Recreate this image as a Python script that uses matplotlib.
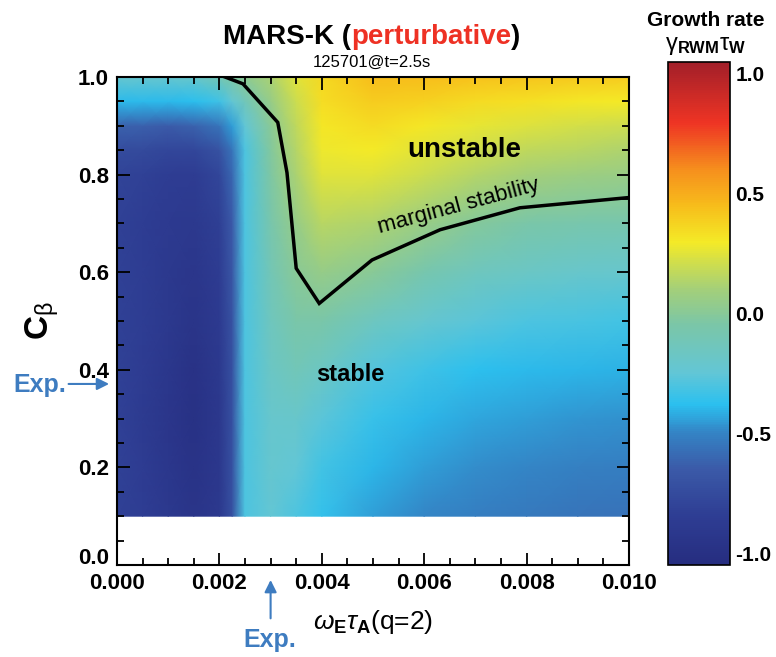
import numpy as np
import matplotlib
matplotlib.use("Agg")
import matplotlib.pyplot as plt
from matplotlib.colors import LinearSegmentedColormap
import matplotlib.transforms as mtransforms

# ---------------- data ----------------
omega = [0.0, 0.0005, 0.001, 0.0015, 0.002, 0.00225, 0.0025, 0.003, 0.0035, 0.004,
         0.005, 0.006, 0.007, 0.008, 0.009, 0.010]
cbeta = [0.1, 0.2, 0.3, 0.4, 0.5, 0.6, 0.7, 0.8, 0.85, 0.9, 0.95, 1.0]
growth = [
    [-0.82, -0.85, -0.90, -0.95, -0.90, -0.72, -0.30, -0.24, -0.30, -0.36, -0.45, -0.50, -0.52, -0.54, -0.55, -0.56],
    [-0.82, -0.86, -0.92, -0.97, -0.91, -0.72, -0.30, -0.22, -0.25, -0.32, -0.40, -0.45, -0.48, -0.50, -0.51, -0.52],
    [-0.82, -0.87, -0.93, -0.99, -0.91, -0.72, -0.30, -0.21, -0.20, -0.27, -0.35, -0.40, -0.43, -0.45, -0.46, -0.47],
    [-0.82, -0.86, -0.92, -0.98, -0.90, -0.72, -0.30, -0.18, -0.12, -0.17, -0.28, -0.33, -0.37, -0.39, -0.40, -0.41],
    [-0.82, -0.85, -0.90, -0.95, -0.88, -0.70, -0.30, -0.14, -0.05, -0.05, -0.15, -0.22, -0.27, -0.30, -0.31, -0.32],
    [-0.82, -0.85, -0.90, -0.93, -0.86, -0.68, -0.30, -0.11, 0.00, 0.05, 0.00, -0.08, -0.14, -0.18, -0.20, -0.21],
    [-0.82, -0.85, -0.88, -0.90, -0.83, -0.65, -0.30, -0.07, 0.05, 0.15, 0.13, 0.06, -0.01, -0.05, -0.07, -0.08],
    [-0.80, -0.82, -0.85, -0.86, -0.78, -0.60, -0.30, -0.04, 0.12, 0.25, 0.25, 0.20, 0.14, 0.10, 0.08, 0.06],
    [-0.74, -0.76, -0.78, -0.78, -0.70, -0.55, -0.30, -0.02, 0.14, 0.28, 0.30, 0.25, 0.21, 0.17, 0.15, 0.13],
    [-0.62, -0.63, -0.64, -0.62, -0.55, -0.45, -0.25, 0.00, 0.17, 0.31, 0.35, 0.31, 0.27, 0.24, 0.22, 0.20],
    [-0.39, -0.39, -0.39, -0.38, -0.33, -0.24, -0.13, 0.05, 0.20, 0.34, 0.40, 0.38, 0.35, 0.33, 0.31, 0.30],
    [-0.22, -0.22, -0.22, -0.20, -0.10, -0.04, 0.02, 0.12, 0.25, 0.36, 0.45, 0.45, 0.43, 0.42, 0.41, 0.40],
]

marg_x = [0.00201, 0.00246, 0.00314, 0.00332, 0.00350, 0.00395, 0.00498, 0.00631, 0.00787, 0.0100]
marg_y = [1.004, 0.986, 0.907, 0.804, 0.608, 0.536, 0.625, 0.687, 0.732, 0.753]

exp_omega = 0.003
exp_cbeta = 0.371

xticks = [0.000, 0.002, 0.004, 0.006, 0.008, 0.010]
xticklabels = ["0.000", "0.002", "0.004", "0.006", "0.008", "0.010"]
yticks = [0.0, 0.2, 0.4, 0.6, 0.8, 1.0]
yticklabels = ["0.0", "0.2", "0.4", "0.6", "0.8", "1.0"]
cbticks = [-1.0, -0.5, 0.0, 0.5, 1.0]
cbticklabels = ["-1.0", "-0.5", "0.0", "0.5", "1.0"]

# ---------------- style ----------------
fam = "Liberation Sans"
plt.rcParams["font.family"] = [fam, "DejaVu Sans"]
plt.rcParams["mathtext.fontset"] = "custom"
plt.rcParams["mathtext.rm"] = fam
plt.rcParams["mathtext.bf"] = fam + ":bold"
plt.rcParams["mathtext.it"] = fam + ":italic"

stops = [(-1.05, "#262d80"), (-0.85, "#2e3d93"), (-0.65, "#3b5aa8"), (-0.5, "#3484c5"),
         (-0.38, "#2bc0ef"), (-0.25, "#62c6d6"), (-0.05, "#7ac6a8"), (0.1, "#a3cf7a"),
         (0.3, "#f4ea27"), (0.45, "#f7bd1b"), (0.6, "#f6901d"), (0.8, "#ee3424"), (1.05, "#a31f29")]
vmin, vmax = -1.05, 1.05
cmap = LinearSegmentedColormap.from_list(
    "mars", [((v - vmin) / (vmax - vmin), c) for v, c in stops])

fig = plt.figure(figsize=(7.76, 6.57), dpi=100)
ax = fig.add_axes([117 / 776, 1 - 565 / 657, 512 / 776, 488 / 657])
cax = fig.add_axes([668 / 776, 1 - 565 / 657, 62 / 776, 503 / 657])

X, Y = np.meshgrid(omega, cbeta)
Z = np.array(growth)
pm = ax.pcolormesh(X, Y, Z, shading="gouraud", cmap=cmap, vmin=vmin, vmax=vmax, rasterized=True)

ax.plot(marg_x, marg_y, color="black", lw=2.5, clip_on=True, solid_joinstyle="miter")

ax.set_xlim(0, 0.010)
ax.set_ylim(0, 1.0)
ax.set_xticks(xticks)
ax.set_xticklabels(xticklabels)
ax.set_yticks(yticks)
ax.set_yticklabels(yticklabels)
ax.set_xticks(np.arange(0, 0.01001, 0.0005), minor=True)
ax.set_yticks(np.arange(0, 1.001, 0.05), minor=True)
ax.tick_params(which="both", direction="in", top=True, right=True, width=1.3, colors="black")
ax.tick_params(which="major", length=9, labelsize=16, pad=6)
ax.tick_params(which="minor", length=5)
for lab in ax.get_xticklabels() + ax.get_yticklabels():
    lab.set_fontweight("bold")
# lift the 0.0 y label slightly, as in the reference
ylabs = ax.get_yticklabels()
ylabs[0].set_transform(ylabs[0].get_transform() +
                       mtransforms.ScaledTranslation(0, 9 / 100, fig.dpi_scale_trans))
for s in ax.spines.values():
    s.set_linewidth(1.5)

ax.set_ylabel(r"$\mathbf{C}_{\mathrm{\beta}}$", fontsize=24, labelpad=12)
ax.set_xlabel(r"$\omega_{\mathbf{E}}\tau_{\mathbf{A}}$(q=2)", fontsize=19, labelpad=10)

ax.text(0.00678, 0.85, "unstable", fontsize=20, fontweight="bold", ha="center", va="center")
ax.text(0.00455, 0.39, "stable", fontsize=17, fontweight="bold", ha="center", va="center")
ax.text(0.00668, 0.735, "marginal stability", fontsize=16, ha="center", va="center", rotation=15)

title_y = 1 - 37 / 657
t1 = fig.text(0, title_y, "MARS-K (", fontsize=20, fontweight="bold", va="center")
t2 = fig.text(0, title_y, "perturbative", fontsize=20, fontweight="bold", color="#ee3124", va="center")
t3 = fig.text(0, title_y, ")", fontsize=20, fontweight="bold", va="center")
fig.canvas.draw()
r = fig.canvas.get_renderer()
w1 = t1.get_window_extent(r).width
w2 = t2.get_window_extent(r).width
w3 = t3.get_window_extent(r).width
W = fig.get_figwidth() * fig.dpi
x0 = 372 - (w1 + w2 + w3) / 2
t1.set_x(x0 / W)
t2.set_x((x0 + w1) / W)
t3.set_x((x0 + w1 + w2) / W)
fig.text(372 / 776, 1 - 62 / 657, "125701@t=2.5s", fontsize=12, ha="center", va="center")

# Exp. arrows
blue = "#3e7cc0"
ax.annotate("", xy=(-0.0001, exp_cbeta), xytext=(-0.0010, exp_cbeta),
            xycoords="data", annotation_clip=False,
            arrowprops=dict(arrowstyle="-|>", color=blue, lw=1.5, mutation_scale=18))
fig.text(40 / 776, 1 - 385 / 657, "Exp.", fontsize=18, fontweight="bold", color=blue,
         ha="center", va="center")
ax.annotate("", xy=(exp_omega, -0.025), xytext=(exp_omega, -0.115),
            xycoords="data", annotation_clip=False,
            arrowprops=dict(arrowstyle="-|>", color=blue, lw=1.5, mutation_scale=18))
fig.text(270 / 776, 1 - 640 / 657, "Exp.", fontsize=18, fontweight="bold", color=blue,
         ha="center", va="center")

# colorbar
cb = fig.colorbar(pm, cax=cax, ticks=cbticks)
cb.ax.set_yticklabels(cbticklabels)
cb.ax.tick_params(length=0, labelsize=15, pad=4)
for lab in cb.ax.get_yticklabels():
    lab.set_fontweight("bold")
cb.outline.set_linewidth(1.2)
cb.ax.set_ylim(vmin, vmax)
fig.text(706 / 776, 1 - 21 / 657, "Growth rate", fontsize=15, fontweight="bold", ha="center", va="center")
fig.text(706 / 776, 1 - 46 / 657, r"$\mathrm{\gamma}_{\mathbf{RWM}}\mathrm{\tau}_{\mathbf{W}}$", fontsize=17,
         ha="center", va="center")

fig.savefig("out.png", dpi=100)
